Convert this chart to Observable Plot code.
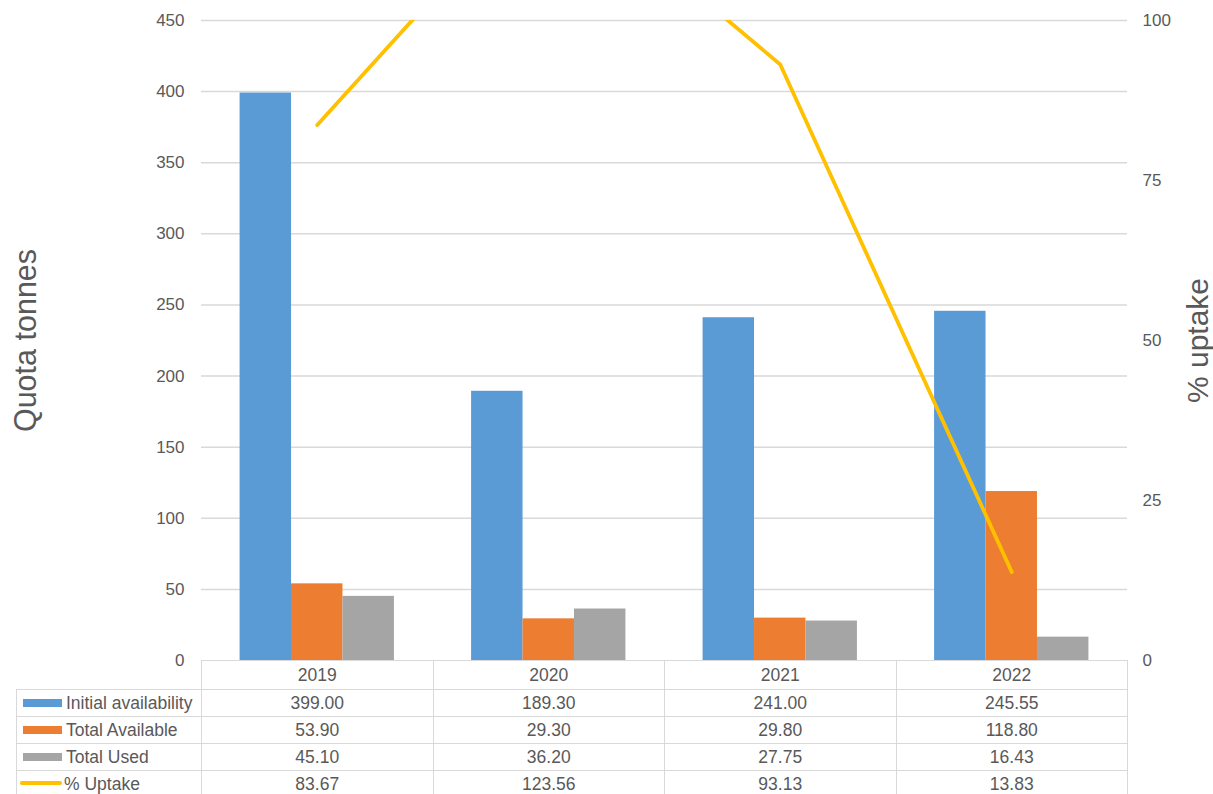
<!DOCTYPE html>
<html>
<head>
<meta charset="utf-8">
<script src="https://cdn.jsdelivr.net/npm/d3@7"></script>
<script src="https://cdn.jsdelivr.net/npm/@observablehq/plot@0.6"></script>
<style>
  html, body { margin: 0; padding: 0; background: #fff; overflow: hidden; }
  #wrap { position: relative; width: 1213px; height: 794px; font-family: "Liberation Sans", Arial, sans-serif; }
  #chart { position: absolute; left: 0; top: 0; }
  table { position: absolute; left: 16px; top: 660px; border-collapse: collapse; table-layout: fixed; color: #595959; font-size: 17.5px; }
  td { border: 1.5px solid #d9d9d9; padding: 0; text-align: center; white-space: nowrap; overflow: hidden; }
  td.blank { border: none; }
  tr.head td { height: 28px; }
  tr.row td { height: 26px; }
  td.leg { text-align: left; padding-left: 6px; }
  .sw { display: inline-block; width: 39px; height: 8px; margin-right: 4px; vertical-align: 2px; }
  .swl { display: inline-block; width: 42px; height: 4px; border-radius: 2px; margin-right: 2px; vertical-align: 5px; margin-left: -3px; }
</style>
</head>
<body>
<div id="wrap"><div id="chart"></div></div>
<script>
const years = ["2019", "2020", "2021", "2022"];
const initialAvailability = [399.00, 189.30, 241.00, 245.55];
const totalAvailable = [53.90, 29.30, 29.80, 118.80];
const totalUsed = [45.10, 36.20, 27.75, 16.43];
const uptake = [83.67, 123.56, 93.13, 13.83];
const seriesNames = ["Initial availability", "Total Available", "Total Used", "% Uptake"];
const seriesColors = ["#5B9BD5", "#ED7D31", "#A5A5A5", "#FFC000"];
const quotaTicks = [0, 50, 100, 150, 200, 250, 300, 350, 400, 450];
const pctTicks = [0, 25, 50, 75, 100];

const quotaMax = 450, pctMax = 100, k = quotaMax / pctMax;
const barSeries = [initialAvailability, totalAvailable, totalUsed];
const groupWidth = 2 / 3, barW = groupWidth / 3;
const bars = years.flatMap((y, i) => barSeries.map((s, j) => ({
  i, j, value: s[i], x1: i - groupWidth / 2 + j * barW, x2: i - groupWidth / 2 + (j + 1) * barW
})));
const lineData = years.map((y, i) => ({ i, v: uptake[i] * k }));
const textColor = "#595959";

const plot = Plot.plot({
  width: 1213,
  height: 672,
  marginLeft: 201,
  marginRight: 86,
  marginTop: 20,
  marginBottom: 12,
  style: { fontFamily: "Liberation Sans, Arial, sans-serif", color: textColor, background: "transparent" },
  x: { type: "linear", domain: [-0.5, years.length - 0.5], axis: null },
  y: { domain: [0, quotaMax], axis: null },
  marks: [
    Plot.gridY(quotaTicks.filter(d => d > 0), { stroke: "#d9d9d9", strokeOpacity: 1, strokeWidth: 1.5 }),
    Plot.rectY(bars, { x1: "x1", x2: "x2", y1: 0, y2: "value", fill: d => seriesColors[d.j] }),
    Plot.line(lineData, { x: "i", y: "v", stroke: seriesColors[3], strokeWidth: 3.8, strokeLinecap: "round", strokeLinejoin: "round", clip: true }),
    Plot.axisY({ ticks: quotaTicks, tickSize: 0, tickPadding: 17, fontSize: 17, label: null, anchor: "left" }),
    Plot.axisY({ ticks: pctTicks.map(d => d * k), tickFormat: d => String(Math.round(d / k)), tickSize: 0, tickPadding: 15, fontSize: 17, label: null, anchor: "right", textAnchor: "start" }),
    Plot.text(["Quota tonnes"], { frameAnchor: "left", rotate: -90, dx: -175, fontSize: 30.5, fill: textColor, textAnchor: "middle", lineAnchor: "middle" }),
    Plot.text(["% uptake"], { frameAnchor: "right", rotate: -90, dx: 71, fontSize: 30, fill: textColor, textAnchor: "middle", lineAnchor: "middle" })
  ]
});
document.getElementById("chart").appendChild(plot);

// data table
const table = document.createElement("table");
const colgroup = document.createElement("colgroup");
[185, 231.5, 231.5, 231.5, 231.5].forEach(w => { const c = document.createElement("col"); c.style.width = w + "px"; colgroup.appendChild(c); });
table.appendChild(colgroup);
const head = document.createElement("tr"); head.className = "head";
const blank = document.createElement("td"); blank.className = "blank"; head.appendChild(blank);
years.forEach(y => { const td = document.createElement("td"); td.textContent = y; head.appendChild(td); });
table.appendChild(head);
const allSeries = [initialAvailability, totalAvailable, totalUsed, uptake];
allSeries.forEach((s, j) => {
  const tr = document.createElement("tr"); tr.className = "row";
  const leg = document.createElement("td"); leg.className = "leg";
  const sw = document.createElement("span");
  sw.className = j === 3 ? "swl" : "sw";
  sw.style.background = seriesColors[j];
  leg.appendChild(sw);
  leg.appendChild(document.createTextNode(seriesNames[j]));
  tr.appendChild(leg);
  s.forEach(v => { const td = document.createElement("td"); td.textContent = v.toFixed(2); tr.appendChild(td); });
  table.appendChild(tr);
});
document.getElementById("wrap").appendChild(table);
</script>
</body>
</html>
